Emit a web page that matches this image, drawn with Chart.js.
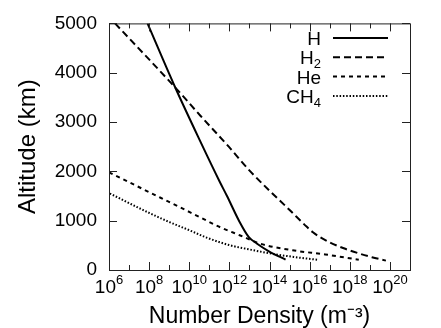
<!DOCTYPE html>
<html><head><meta charset="utf-8">
<script src="https://cdn.jsdelivr.net/npm/chart.js@4"></script>
<style>html,body{margin:0;padding:0;background:#fff;}#wrap{width:441px;height:328px;position:relative;}</style>
</head><body><div id="wrap"><canvas id="c" width="441" height="328" style="width:441px;height:328px"></canvas></div>
<script>
// ---- data ----
const seriesNames = ['H', 'H₂', 'He', 'CH₄'];
const hDensity   = [8.3e7, 2.0e9, 3.5e10, 3.2e11, 7.6e11, 3.0e12, 9.3e12, 2.4e13, 9.3e13, 6.3e14];
const hAltitude  = [5000, 3700, 2613, 1800, 1500, 1000, 667, 533, 380, 210];
const h2Density  = [2.0e6, 2.0e9, 3.5e10, 9.3e11, 1.1e13, 1.1e15, 3.5e15, 7.0e15, 1.4e16, 3.2e16, 1.0e17, 5.0e17, 3.2e18, 1.26e19, 6.3e19];
const h2Altitude = [5000, 3700, 3133, 2500, 2000, 1200, 1000, 880, 770, 670, 560, 440, 330, 260, 190];
const heDensity  = [1.0e6, 3.5e8, 3.5e9, 3.5e10, 3.5e11, 3.5e12, 3.5e13, 1.4e15, 6.0e16, 2.8e18];
const heAltitude = [1980, 1470, 1270, 1067, 867, 700, 533, 400, 315, 210];
const ch4Density = [1.1e6, 1.1e8, 1.1e9, 1.1e10, 8.0e10, 1.1e12, 1.1e13, 9.3e13, 1.6e15, 2.8e16];
const ch4Altitude= [1550, 1150, 967, 800, 650, 500, 413, 340, 265, 205];
const xTickValues = [1e6, 1e8, 1e10, 1e12, 1e14, 1e16, 1e18, 1e20];
const xMinorTickValues = [1e7, 1e9, 1e11, 1e13, 1e15, 1e17, 1e19];
const yTickValues = [0, 1000, 2000, 3000, 4000, 5000];
const xTitle = 'Number Density (m⁻³)';
const yTitle = 'Altitude (km)';

const FONT = "'Liberation Sans', Arial, Helvetica, sans-serif";
const toPts = (xs, ys) => xs.map((x, i) => ({x: x, y: ys[i]}));
const styles = [
  {dash: [], width: 2},
  {dash: [7, 4], width: 2},
  {dash: [4, 4], width: 2},
  {dash: [1.5, 1.8], width: 2}
];
const allData = [toPts(hDensity, hAltitude), toPts(h2Density, h2Altitude), toPts(heDensity, heAltitude), toPts(ch4Density, ch4Altitude)];

const framePlugin = {
  id: 'frame',
  afterDatasetsDraw(chart) {
    const {ctx, chartArea: a, scales} = chart;
    ctx.save();
    ctx.strokeStyle = '#222';
    ctx.lineWidth = 1;
    ctx.strokeRect(a.left + 0.5, a.top + 0.5, a.right - a.left, a.bottom - a.top);
    ctx.beginPath();
    const xt = (v, len) => {
      const px = Math.round(scales.x.getPixelForValue(v)) + 0.5;
      ctx.moveTo(px, a.bottom); ctx.lineTo(px, a.bottom - len);
      ctx.moveTo(px, a.top); ctx.lineTo(px, a.top + len);
    };
    xTickValues.forEach(v => xt(v, 8));
    xMinorTickValues.forEach(v => xt(v, 5));
    yTickValues.forEach(v => {
      const py = Math.round(scales.y.getPixelForValue(v)) + 0.5;
      ctx.moveTo(a.left, py); ctx.lineTo(a.left + 8, py);
      ctx.moveTo(a.right, py); ctx.lineTo(a.right - 8, py);
    });
    ctx.stroke();
    // x tick labels: 10 with raised exponent
    ctx.fillStyle = '#000';
    ctx.textAlign = 'left';
    ctx.textBaseline = 'alphabetic';
    const fMain = '19px ' + FONT, fSup = '13px ' + FONT;
    xTickValues.forEach(v => {
      const px = scales.x.getPixelForValue(v);
      const exp = String(Math.round(Math.log10(v)));
      ctx.font = fMain; const w1 = ctx.measureText('10').width;
      ctx.font = fSup; const w2 = ctx.measureText(exp).width;
      const x0 = px - (w1 + w2) / 2;
      ctx.font = fMain; ctx.fillText('10', x0, 293);
      ctx.font = fSup; ctx.fillText(exp, x0 + w1, 284);
    });
    ctx.restore();
  }
};

const subMap = {'₀':'0','₁':'1','₂':'2','₃':'3','₄':'4','₅':'5','₆':'6','₇':'7','₈':'8','₉':'9'};
const legendPlugin = {
  id: 'customLegend',
  afterDraw(chart) {
    const {ctx} = chart;
    ctx.save();
    chart.data.datasets.forEach((ds, i) => {
      const ly = 38 + i * 19.3;
      const parts = [];
      for (const ch of ds.label) {
        const sub = subMap[ch] !== undefined;
        const t = sub ? subMap[ch] : ch;
        if (parts.length && parts[parts.length - 1].sub === sub) parts[parts.length - 1].t += t;
        else parts.push({t: t, sub: sub});
      }
      const fMain = '19px ' + FONT, fSub = '13px ' + FONT;
      let w = 0;
      parts.forEach(p => { ctx.font = p.sub ? fSub : fMain; p.w = ctx.measureText(p.t).width; w += p.w; });
      let x = 321 - w;
      ctx.fillStyle = '#000';
      ctx.textBaseline = 'alphabetic';
      ctx.textAlign = 'left';
      parts.forEach(p => {
        ctx.font = p.sub ? fSub : fMain;
        ctx.fillText(p.t, x, ly + (p.sub ? 11 : 7));
        x += p.w;
      });
      ctx.beginPath();
      ctx.strokeStyle = '#000';
      ctx.lineWidth = ds.borderWidth;
      ctx.setLineDash(ds.borderDash || []);
      ctx.moveTo(333, ly); ctx.lineTo(388, ly);
      ctx.stroke();
    });
    ctx.restore();
  }
};

new Chart(document.getElementById('c'), {
  type: 'line',
  data: {
    datasets: seriesNames.map((name, i) => ({
      label: name,
      data: allData[i],
      borderColor: '#000',
      backgroundColor: '#000',
      borderWidth: styles[i].width,
      borderDash: styles[i].dash,
      pointRadius: 0,
      fill: false,
      cubicInterpolationMode: 'monotone'
    }))
  },
  options: {
    responsive: false,
    animation: false,
    devicePixelRatio: 1,
    layout: {padding: {top: 20, right: 31, left: 0, bottom: 0}},
    plugins: {legend: {display: false}, tooltip: {enabled: false}},
    scales: {
      x: {
        type: 'logarithmic',
        min: 1e6, max: 1e21,
        afterBuildTicks: s => { s.ticks = xTickValues.map(v => ({value: v})); },
        afterFit: s => { s.height = 58; },
        grid: {display: false, drawTicks: false},
        border: {display: false},
        ticks: {display: false},
        title: {display: true, text: xTitle, color: '#000', font: {family: FONT, size: 23, lineHeight: 1.0}, padding: {top: 0, bottom: 0}}
      },
      y: {
        type: 'linear',
        min: 0, max: 5000,
        afterBuildTicks: s => { s.ticks = yTickValues.map(v => ({value: v})); },
        afterFit: s => { s.width = 109; },
        grid: {display: false, drawTicks: false},
        border: {display: false},
        ticks: {padding: 12, color: '#000', font: {family: FONT, size: 19}, callback: v => String(v)},
        title: {display: true, text: yTitle, color: '#000', font: {family: FONT, size: 24, lineHeight: 1.0}, padding: {top: 16, bottom: 0}}
      }
    }
  },
  plugins: [framePlugin, legendPlugin]
});
</script></body></html>
